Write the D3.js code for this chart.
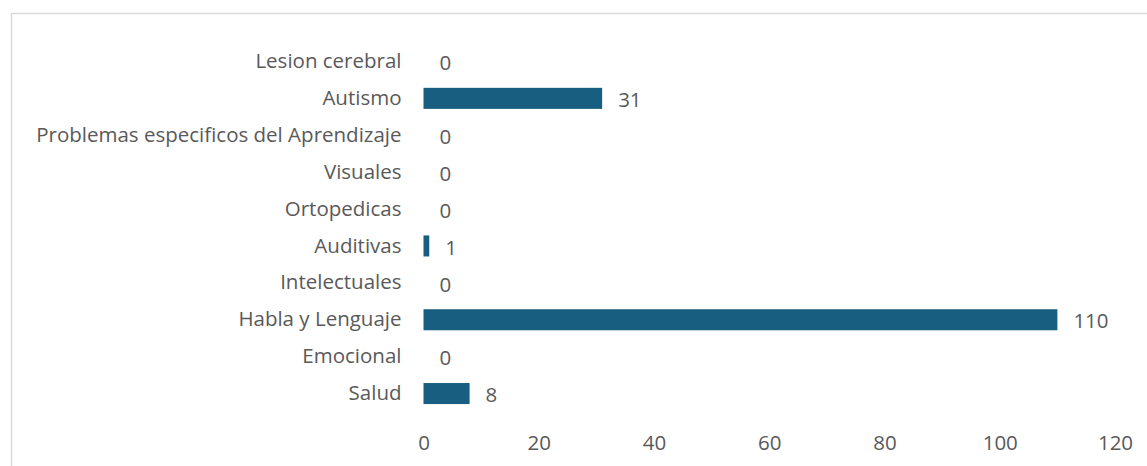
<!DOCTYPE html>
<html lang="es">
<head>
    <meta charset="UTF-8">
    <script src="https://d3js.org/d3.v7.min.js"></script>
    <title>Discapacidades</title>
    <style>
        body { margin: 0; background: #fff; }
        svg text { font-family: "Open Sans", sans-serif; fill: #595959; }
    </style>
</head>
<body>
    <div id="chart"></div>
    <script>
        // data, top to bottom as drawn
        const categories = ['Lesion cerebral', 'Autismo', 'Problemas especificos del Aprendizaje', 'Visuales',
            'Ortopedicas', 'Auditivas', 'Intelectuales', 'Habla y Lenguaje', 'Emocional', 'Salud'];
        const values = [0, 31, 0, 0, 0, 1, 0, 110, 0, 8];
        const xTicks = [0, 20, 40, 60, 80, 100, 120];

        const w = 1147;
        const h = 466;
        const fontSize = '20.5px';

        const svg = d3.select('#chart')
            .append('svg')
            .attr('width', w)
            .attr('height', h);

        // frame (right and bottom edges fall outside the picture)
        svg.append('rect')
            .attr('x', 11.5)
            .attr('y', 13.5)
            .attr('width', w)
            .attr('height', h)
            .attr('fill', 'none')
            .attr('stroke', '#d9d9d9')
            .attr('stroke-width', 1.5);

        const x = d3.scaleLinear()
            .domain([0, 120])
            .range([423.5, 1115]);

        const y = d3.scaleBand()
            .domain(categories)
            .range([43, 412])
            .paddingInner(0.43)
            .paddingOuter(0.215);

        const data = categories.map((c, i) => ({ cat: c, val: values[i] }));

        // bars
        svg.selectAll('rect.bar')
            .data(data)
            .enter().append('rect')
            .attr('class', 'bar')
            .attr('x', x(0))
            .attr('y', d => y(d.cat))
            .attr('width', d => x(d.val) - x(0))
            .attr('height', y.bandwidth())
            .attr('fill', '#175e80');

        // value labels
        svg.selectAll('text.val')
            .data(data)
            .enter().append('text')
            .attr('class', 'val')
            .attr('x', d => x(d.val) + 16)
            .attr('y', d => y(d.cat) + y.bandwidth() / 2 + 1.5)
            .attr('dy', '0.35em')
            .style('font-size', fontSize)
            .text(d => d.val);

        // category axis
        const yAxis = d3.axisLeft(y).tickSize(0).tickPadding(22);
        const gy = svg.append('g')
            .attr('transform', 'translate(' + x(0) + ',0)')
            .call(yAxis);
        gy.select('.domain').remove();
        gy.selectAll('text')
            .style('font-size', fontSize)
            .attr('fill', null)
            .attr('font-family', null);

        // value axis, labels only
        const xAxis = d3.axisBottom(x).tickValues(xTicks).tickSize(0).tickPadding(0);
        const gx = svg.append('g')
            .attr('transform', 'translate(0,' + 435.5 + ')')
            .call(xAxis);
        gx.select('.domain').remove();
        gx.selectAll('text')
            .style('font-size', fontSize)
            .attr('fill', null)
            .attr('font-family', null);
    </script>
</body>
</html>
